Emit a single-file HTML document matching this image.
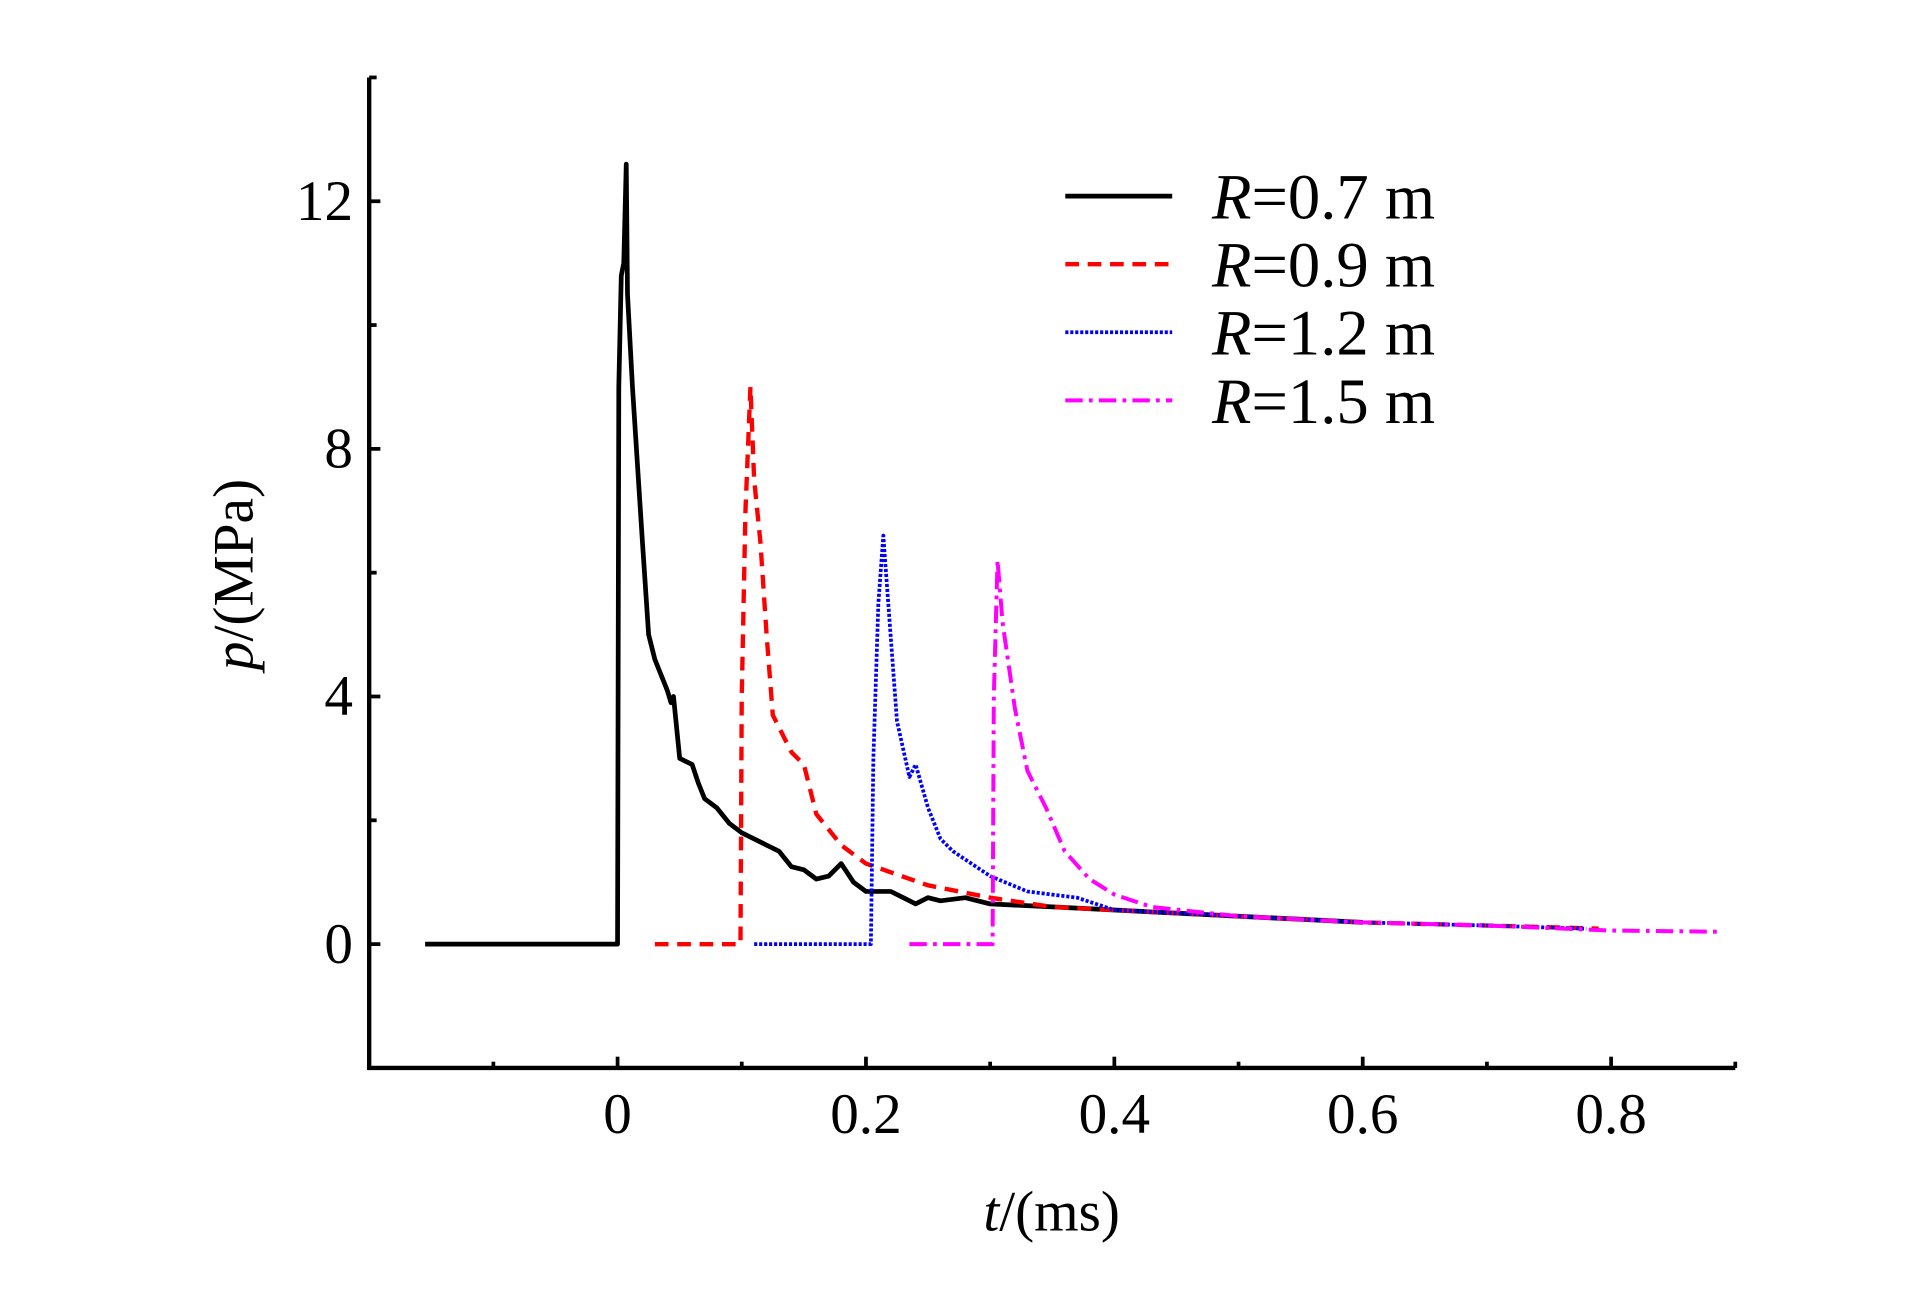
<!DOCTYPE html>
<html><head><meta charset="utf-8"><style>
html,body{margin:0;padding:0;background:#fff;}
svg{display:block;}
text{font-family:"Liberation Serif",serif;fill:#000;}
</style></head><body>
<svg id="chart" width="1923" height="1299" viewBox="0 0 1547 1040" preserveAspectRatio="none" xmlns="http://www.w3.org/2000/svg">
<g id="plot"></g>
<g id="axes"></g>
<g id="legend"></g>
</svg>
<script>
const xTicks = [0, 0.2, 0.4, 0.6, 0.8];
const xMinor = [-0.1, 0.1, 0.3, 0.5, 0.7, 0.9];
const yTicks = [0, 4, 8, 12];
const yMinor = [-2, 2, 6, 10, 14];
const tBlack = [-0.155,-0.13,-0.1,-0.07,-0.04,-0.02,-0.005,0,0.001,0.003,0.005,0.007,0.008,0.012,0.02,0.025,0.03,0.04,0.043,0.045,0.05,0.06,0.065,0.07,0.08,0.09,0.1,0.12,0.13,0.14,0.15,0.16,0.17,0.18,0.19,0.2,0.22,0.23,0.24,0.25,0.26,0.28,0.3,0.35,0.4,0.45,0.5,0.55,0.6];
const pBlack = [0,0,0,0,0,0,0,0,9,10.8,11,12.6,10.5,9,6.5,5,4.6,4.1,3.9,4.0,3.0,2.9,2.6,2.35,2.2,1.95,1.8,1.6,1.5,1.25,1.2,1.05,1.1,1.3,1.0,0.85,0.85,0.75,0.65,0.75,0.7,0.75,0.65,0.6,0.55,0.5,0.45,0.4,0.35];
const tRed = [0.03,0.06,0.099,0.1,0.103,0.107,0.11,0.115,0.12,0.125,0.14,0.15,0.16,0.18,0.2,0.25,0.3,0.35,0.4,0.5,0.6,0.7,0.79];
const pRed = [0,0,0,4,7,9,7.5,6.5,5,3.7,3.1,2.9,2.1,1.6,1.3,0.95,0.75,0.6,0.55,0.45,0.35,0.3,0.25];
const tBlue = [0.11,0.16,0.204,0.206,0.21,0.214,0.218,0.225,0.235,0.24,0.25,0.26,0.27,0.3,0.33,0.37,0.4,0.5,0.6,0.7,0.78];
const pBlue = [0,0,0,3,5.5,6.6,5.5,3.6,2.7,2.9,2.2,1.7,1.5,1.1,0.85,0.75,0.55,0.45,0.35,0.3,0.25];
const tMag = [0.235,0.27,0.302,0.303,0.306,0.31,0.32,0.33,0.345,0.36,0.38,0.4,0.43,0.5,0.6,0.7,0.8,0.89];
const pMag = [0,0,0,4,6.2,5.2,3.8,2.8,2.2,1.5,1.05,0.8,0.6,0.45,0.35,0.3,0.22,0.2];
const legendLabels = ["0.7 m","0.9 m","1.2 m","1.5 m"];

const NS="http://www.w3.org/2000/svg";
const X0=297,X1=1396,Y0=62,Y1=855;
const xs=t=>X0+(t+0.2)/1.1*(X1-X0);
const ys=p=>Y1-(p+2)/16*(Y1-Y0);
function mk(tag,parent,attrs){const e=document.createElementNS(NS,tag);for(const k in attrs)e.setAttribute(k,attrs[k]);parent.appendChild(e);return e;}
const plot=document.getElementById('plot'),axes=document.getElementById('axes'),legend=document.getElementById('legend');
const series=[
 {t:tBlack,p:pBlack,c:"#000",d:"",w:3.8,n:"series-r07"},
 {t:tRed,p:pRed,c:"#f00",d:"11,7",w:3.5,n:"series-r09"},
 {t:tBlue,p:pBlue,c:"#00f",d:"2.5,1.5",w:3,n:"series-r12"},
 {t:tMag,p:pMag,c:"#f0f",d:"14,5,3,5",w:3.2,n:"series-r15"}];
series.forEach(s=>{
 const d=s.t.map((t,i)=>(i?'L':'M')+xs(t).toFixed(1)+','+ys(s.p[i]).toFixed(1)).join(' ');
 const e=mk('path',plot,{d:d,fill:'none',stroke:s.c,'stroke-width':s.w,'stroke-dasharray':s.d,'stroke-linejoin':'round'});
 
 
});
let e=mk('path',axes,{d:`M${X0},${Y0} L${X0},${Y1} L${X1},${Y1}`,fill:'none',stroke:'#000','stroke-width':3.5});


xTicks.forEach(t=>{
 mk('line',axes,{x1:xs(t),x2:xs(t),y1:Y1,y2:Y1-9,stroke:'#000','stroke-width':3});
 const tx=mk('text',axes,{x:xs(t),y:907,'font-size':46,'text-anchor':'middle'});tx.textContent=t;
 
 
});
xMinor.forEach(t=>mk('line',axes,{x1:xs(t),x2:xs(t),y1:Y1,y2:Y1-5,stroke:'#000','stroke-width':3}));
yTicks.forEach(p=>{
 mk('line',axes,{x1:X0,x2:X0+9,y1:ys(p),y2:ys(p),stroke:'#000','stroke-width':3});
 const tx=mk('text',axes,{x:284,y:ys(p)+15,'font-size':46,'text-anchor':'end'});tx.textContent=p;
 
 
});
yMinor.forEach(p=>mk('line',axes,{x1:X0,x2:X0+6,y1:ys(p),y2:ys(p),stroke:'#000','stroke-width':3}));
let xt=mk('text',axes,{x:846,y:985,'font-size':46,'text-anchor':'middle'});
xt.innerHTML='<tspan font-style="italic">t</tspan>/(ms)';


let yt=mk('text',axes,{x:0,y:0,'font-size':46,'text-anchor':'middle',transform:'translate(203,460) rotate(-90)'});
yt.innerHTML='<tspan font-style="italic">p</tspan>/(MPa)';


series.forEach((s,i)=>{
 const y=157+i*54.5;
 const l=mk('line',legend,{x1:857,x2:943,y1:y,y2:y,stroke:s.c,'stroke-width':s.w,'stroke-dasharray':s.d});
 
 
 const tx=mk('text',legend,{x:975,y:y+18,'font-size':52});
 tx.innerHTML='<tspan font-style="italic">R</tspan>='+legendLabels[i];
 
 
});
</script>
</body></html>
